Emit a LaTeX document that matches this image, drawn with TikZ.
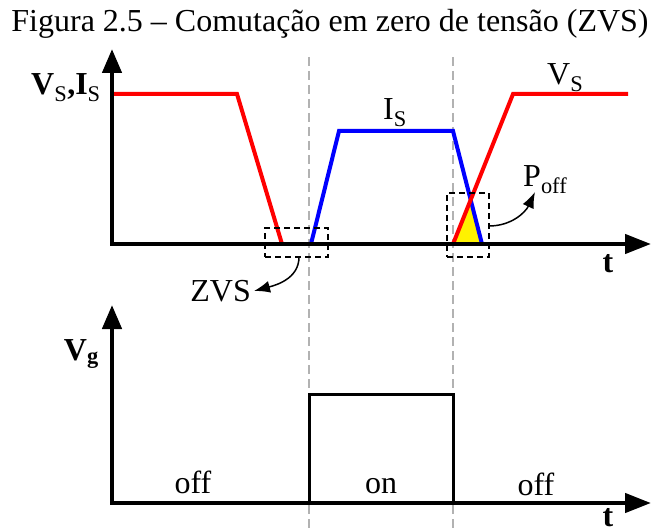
\documentclass[tikz,border=0pt]{standalone}
\usepackage{fontspec}
\setmainfont{Liberation Serif}
\usetikzlibrary{arrows.meta}
\begin{document}
\begin{tikzpicture}[x=1pt,y=-1pt,
  axis/.style={line width=4.5pt,line join=miter,{Triangle[length=24pt,width=19pt]}-{Triangle[length=26pt,width=19pt]}},
  redwave/.style={draw=red,line width=4pt,line join=miter},
  bluewave/.style={draw=blue,line width=4pt,line join=miter},
  guide/.style={draw=black!30,line width=1.3pt,dash pattern=on 9pt off 5pt},
  zoombox/.style={draw=black,line width=1.2pt,dash pattern=on 6pt off 4pt},
  callout/.style={draw=black,line width=1.5pt,-{Latex[length=16pt,width=12pt]}},
  lbl/.style={font=\fontsize{32}{36}\selectfont,inner sep=0pt},
  blbl/.style={font=\fontsize{32}{36}\selectfont\bfseries,inner sep=0pt},
  pulse/.style={draw=black,line width=3pt,line join=miter}]
\useasboundingbox (0,0) rectangle (653,532);

% title
\node[font=\fontsize{32}{36}\selectfont,inner sep=0pt,anchor=base] (title) at (330,32) {Figura 2.5 – Comutação em zero de tensão (ZVS)};

% guides
\coordinate (g1t) at (309,57); \coordinate (g1b) at (309,532);
\coordinate (g2t) at (453,57); \coordinate (g2b) at (453,532);
\draw[guide] (g1t) -- (g1b);
\draw[guide] (g2t) -- (g2b);

% top plot
\coordinate (ay) at (112,49);
\coordinate (ao) at (112,244);
\coordinate (ax) at (651,244);
\coordinate (r1) at (112,94);
\coordinate (r2) at (237,94);
\coordinate (r3) at (282,244);
\coordinate (b1) at (311,244);
\coordinate (b2) at (339,131);
\coordinate (b3) at (453,131);
\coordinate (b4) at (482,244);
\coordinate (s1) at (453,244);
\coordinate (s2) at (513,94);
\coordinate (s3) at (628,94);
\coordinate (cx) at (470.7,199.8);

\fill[yellow] (s1) -- (cx) -- (b4) -- cycle;
\draw[redwave] (r1) -- (r2) -- (r3);
\draw[bluewave] (b1) -- (b2) -- (b3) -- (b4);
\draw[redwave] (s1) -- (s2) -- (s3);
\draw[axis] (ay) -- (ao) -- (ax);

\node[blbl,anchor=base west] (vsis) at (31,95) {V\textsubscript{\mdseries S},I\textsubscript{\mdseries S}};
\node[lbl,anchor=base west] (vs) at (547,85) {V\textsubscript{S}};
\node[lbl,anchor=base west] (is) at (383,120) {I\textsubscript{S}};
\node[blbl,anchor=base] (t1) at (608,272) {t};

% zoom boxes and callouts
\node[zoombox,minimum width=63pt,minimum height=29pt,inner sep=0pt] (zbox) at (296.5,242.5) {};
\node[zoombox,minimum width=42pt,minimum height=64pt,inner sep=0pt] (pbox) at (468,225) {};
\coordinate (zs) at (299,257);
\coordinate (ps) at (489,226);
\node[lbl,anchor=base east] (zvs) at (251,301) {ZVS};
\node[lbl,anchor=base west] (poff) at (523,186) {P\textsubscript{off}};
\coordinate (ze) at (254,291);
\coordinate (pe) at (535,192);
\draw[callout] (zs) to[out=-90,in=15] (ze);
\draw[callout] (ps) to[out=0,in=-115] (pe);

% bottom plot
\coordinate (vy) at (112,305);
\coordinate (vo) at (112,503);
\coordinate (vx) at (651,503);
\coordinate (p1) at (309,503);
\coordinate (p2) at (309,394);
\coordinate (p3) at (453,394);
\coordinate (p4) at (453,503);
\draw[pulse] (p1) -- (p2) -- (p3) -- (p4);
\draw[axis] (vy) -- (vo) -- (vx);

\node[blbl,anchor=base east] (vg) at (99,360) {V\textsubscript{g}};
\node[blbl,anchor=base] (t2) at (608,526) {t};
\node[lbl,anchor=base] (off1) at (193,493) {off};
\node[lbl,anchor=base] (on) at (381,493) {on};
\node[lbl,anchor=base] (off2) at (536,495) {off};
\end{tikzpicture}
\end{document}
